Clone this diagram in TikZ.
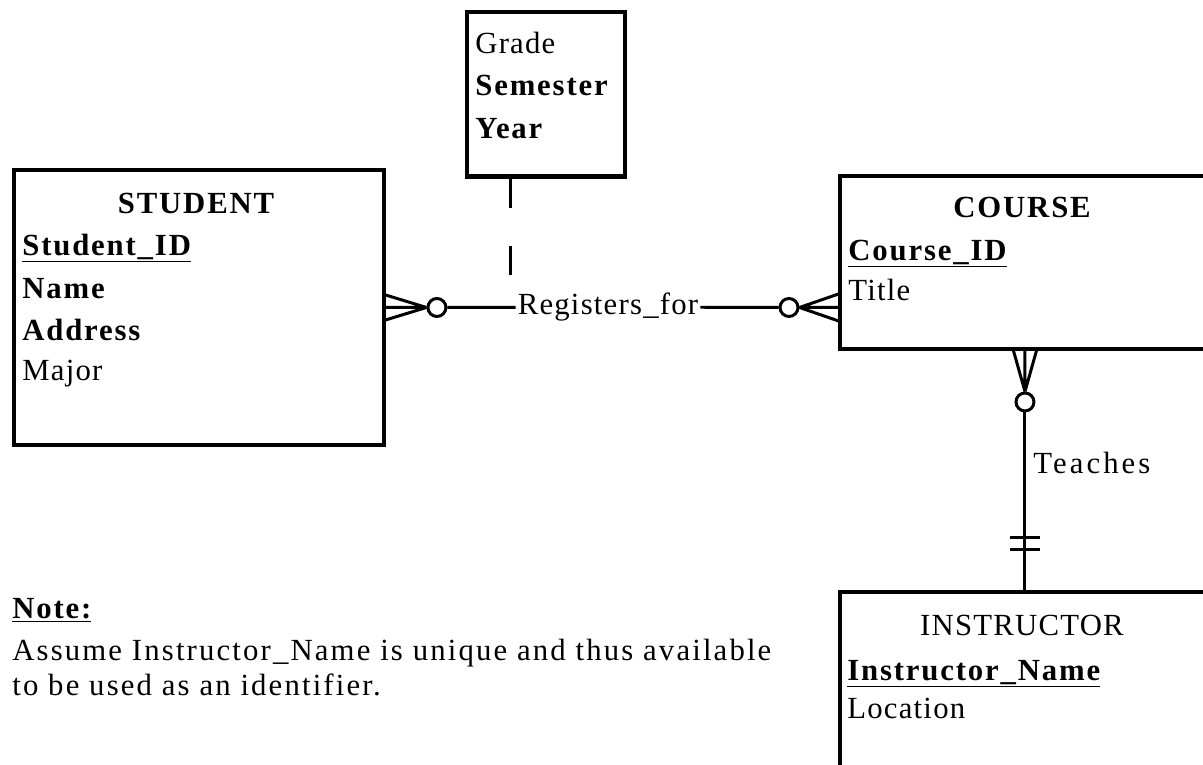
\documentclass[tikz,border=0pt]{standalone}
\usepackage{fontspec}
\setmainfont{Liberation Serif}[LetterSpace=4, BoldFeatures={LetterSpace=6}]
\usetikzlibrary{positioning, calc}

\tikzset{
  entity/.style={draw, line width=2.4pt, inner sep=0pt, outer sep=0pt, anchor=north west},
  attr/.style={anchor=base west, inner sep=0pt},
  heading/.style={anchor=base, inner sep=0pt},
  link/.style={line width=1.7pt},
  ring/.style={circle, draw, line width=1.7pt, minimum size=0.36cm, inner sep=0pt, fill=white},
  rel/.style={fill=white, inner sep=1pt}
}

\begin{document}
\begin{tikzpicture}[x=0.02cm, y=-0.02cm, font=\fontsize{17.5}{21}\selectfont]
      \clip (0,0) rectangle (1203,764);

      % entities
      \node[entity, minimum width=7.4cm, minimum height=5.5cm] (student) at (14,170) {};
      \node[entity, minimum width=3.16cm, minimum height=3.29cm] (assoc) at (467,12) {};
      \node[entity, minimum width=7.4cm, minimum height=3.46cm] (course) at (840,176) {};
      \node[entity, minimum width=7.4cm, minimum height=5cm] (instructor) at (840,592) {};

      % attributes
      \node[heading] (stuTitle) at (197,213) {\textbf{STUDENT}};
      \node[attr] (stuId) at (22,255) {\textbf{\underline{Student\_ID}}};
      \node[attr] (stuName) at (22,298) {\textbf{Name}};
      \node[attr] (stuAddr) at (22,340) {\textbf{Address}};
      \node[attr] (stuMajor) at (22,380) {Major};

      \node[attr] (grade) at (475,53) {Grade};
      \node[attr] (semester) at (475,95) {\textbf{Semester}};
      \node[attr] (year) at (475,138) {\textbf{Year}};

      \node[heading] (crsTitle) at (1023,217) {\textbf{COURSE}};
      \node[attr] (crsId) at (848,260) {\textbf{\underline{Course\_ID}}};
      \node[attr] (crsName) at (848,300) {Title};

      \node[heading] (insTitle) at (1022,635) {INSTRUCTOR};
      \node[attr] (insName) at (847,680) {\textbf{\underline{Instructor\_Name}}};
      \node[attr] (insLoc) at (847,718) {Location};

      % registers_for
      \coordinate (crsJoin) at (course.west |- student.east);
      \node[ring] (stuRing) at ($(student.east)+(53,0)$) {};
      \node[ring] (crsRing) at ($(crsJoin)+(-51,0)$) {};
      \node[rel] (reg) at (608,307) {Registers\_for};
      \draw[link] (student.east) -- (stuRing.west)
                  ($(student.east)+(0,-13)$) -- (stuRing.west)
                  ($(student.east)+(0,13)$) -- (stuRing.west);
      \draw[link] (crsJoin) -- (crsRing.east)
                  ($(crsJoin)+(0,-14)$) -- (crsRing.east)
                  ($(crsJoin)+(0,14)$) -- (crsRing.east);
      \draw[link] (stuRing) -- (reg) -- (crsRing);
      \coordinate (assocEnd) at (510,275);
      \draw[link, dash pattern=on 0.64cm off 0.76cm] (assoc.south -| assocEnd) -- (assocEnd);

      % teaches
      \node[ring] (tchRing) at ($(course.south)+(0,53)$) {};
      \draw[link] (course.south) -- (tchRing.north)
                  ($(course.south)+(-12,0)$) -- (tchRing.north)
                  ($(course.south)+(12,0)$) -- (tchRing.north);
      \draw[link] (tchRing) -- (instructor.north);
      \draw[link] ($(instructor.north)+(-15,-55)$) -- ++(30,0);
      \draw[link] ($(instructor.north)+(-15,-43)$) -- ++(30,0);
      \node[attr] (teaches) at (1033,473) {\addfontfeature{LetterSpace=10}Teaches};

      % note
      \node[attr] (noteHead) at (12,618) {\textbf{\underline{Note:}}};
      \node[attr] (noteLine) at (12,660) {\addfontfeature{LetterSpace=7}Assume Instructor\_Name is unique and thus available};
      \node[attr] (noteEnd) at (12,695) {\addfontfeature{LetterSpace=7}to be used as an identifier.};
\end{tikzpicture}
\end{document}
